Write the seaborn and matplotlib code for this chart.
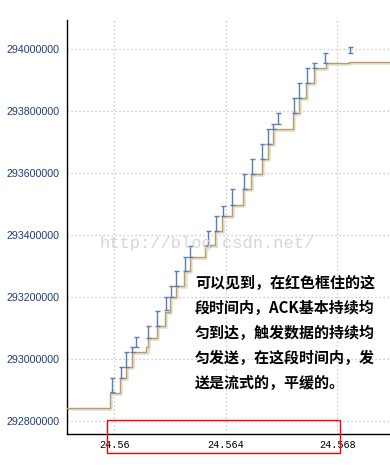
import matplotlib
matplotlib.use("Agg")
import matplotlib.pyplot as plt
import matplotlib.transforms as mtransforms
from matplotlib.patches import Rectangle
import seaborn as sns
import numpy as np
import pandas as pd

# ---- data ----
ack_time = [24.5580, 24.55985, 24.56019, 24.56041, 24.56062, 24.56115, 24.56121,
            24.56154, 24.56181, 24.56200, 24.56221, 24.56251, 24.56271, 24.56325,
            24.56361, 24.56385, 24.56421, 24.56460, 24.56489, 24.56528, 24.56550,
            24.56568, 24.56639, 24.56662, 24.56687, 24.56715, 24.56759, 24.56842,
            24.5700]
ack_seq = [292841900, 292889400, 292937700, 292973200, 293021600, 293039700, 293066800,
           293106500, 293152600, 293201000, 293235500, 293284800, 293330000, 293367700,
           293412900, 293461300, 293496800, 293547400, 293596800, 293644200, 293692600,
           293741900, 293792600, 293841000, 293889400, 293937700, 293953900, 293959000,
           293959000]

seg_time = [24.55990, 24.56023, 24.56042, 24.56062, 24.56077, 24.56120, 24.56154,
            24.56184, 24.56205, 24.56221, 24.56255, 24.56271, 24.56337, 24.56366,
            24.56391, 24.56423, 24.56465, 24.56494, 24.56530, 24.56552, 24.56568,
            24.56586, 24.56644, 24.56663, 24.56692, 24.56716, 24.56756, 24.56845]
seg_low = [292893500, 292937700, 292973200, 293022600, 293037700, 293066800, 293106500,
           293158100, 293201000, 293235500, 293284800, 293330000, 293365500, 293413900,
           293461300, 293496800, 293547400, 293596800, 293644200, 293692600, 293741900,
           293757100, 293792600, 293841000, 293889400, 293937700, 293953900, 293986100]
seg_high = [292937700, 292973200, 293021600, 293038700, 293070000, 293106500, 293154800,
            293201000, 293235500, 293284800, 293330000, 293364500, 293413900, 293461300,
            293494500, 293547400, 293596800, 293644200, 293692600, 293741900, 293757100,
            293792600, 293841000, 293889400, 293937700, 293953900, 293986100, 294007400]

x_ticks = [24.56, 24.564, 24.568]
x_tick_labels = ["24.56", "24.564", "24.568"]
y_ticks = [292800000, 293000000, 293200000, 293400000, 293600000, 293800000, 294000000]
y_tick_labels = [str(v) for v in y_ticks]

note_lines = ["可以见到，在红色框住的这",
              "段时间内，ACK基本持续均",
              "匀到达，触发数据的持续均",
              "匀发送，在这段时间内，发",
              "送是流式的，平缓的。"]
watermark = "http://blog.csdn.net/"

# ---- figure ----
sns.set_style("white")
plt.rcParams['font.family'] = ['Liberation Sans', 'DejaVu Sans']

W, H = 390, 465
fig = plt.figure(figsize=(W / 100, H / 100), dpi=100)
ax = fig.add_axes([66.7 / W, (H - 434) / H, (W - 66.7) / W, (434 - 20) / H])

ack_df = pd.DataFrame({"time": ack_time, "seq": ack_seq})

# shadow of ack line
shadow_tr = mtransforms.offset_copy(ax.transData, fig=fig, x=1.2, y=-1.0, units='dots')
ax.step(ack_df["time"], ack_df["seq"], where="post", color="#e8e0cc",
        linewidth=1.9, transform=shadow_tr, zorder=2)
sns.lineplot(data=ack_df, x="time", y="seq", drawstyle="steps-post", estimator=None,
             sort=False, color="#b39d73", linewidth=1.0, ax=ax, zorder=3)

# data segments
st = np.array(seg_time)
lo = np.array(seg_low)
hi = np.array(seg_high)
ax.errorbar(st, lo, yerr=[np.zeros_like(lo), hi - lo], fmt='none',
            ecolor="#5a7db0", elinewidth=1.0, capsize=1.8, capthick=1.0, zorder=4)

# axes styling
ax.set_xlim(24.558294, 24.569882)
ax.set_ylim(292758065, 294093548)
ax.set_xticks(x_ticks)
ax.set_xticklabels(x_tick_labels, fontfamily="Liberation Mono", fontsize=7.3, color="black")
ax.set_yticks(y_ticks)
ax.set_yticklabels(y_tick_labels, fontsize=7.7, color="#203d7a")
ax.xaxis.set_minor_locator(matplotlib.ticker.MultipleLocator(0.001))
ax.yaxis.set_minor_locator(matplotlib.ticker.MultipleLocator(50000))
ax.tick_params(axis='both', which='major', direction='in', length=5, width=1,
               color='black', pad=5)
ax.tick_params(axis='both', which='minor', direction='in', length=2.5, width=1,
               color='black')
ax.tick_params(axis='x', which='major', pad=4)
ax.grid(True, which='major', color='#bdbdbd', linewidth=0.9, linestyle=(0, (1, 2.2)))
ax.set_xlabel("")
ax.set_ylabel("")
for s in ['top', 'right']:
    ax.spines[s].set_visible(False)
for s in ['left', 'bottom']:
    ax.spines[s].set_color('black')
    ax.spines[s].set_linewidth(1.0)
ax.set_axisbelow(True)

# watermark
fig.text(100 / W, 1 - 243.5 / H, watermark, fontfamily="Liberation Mono", fontsize=12.3,
         color="#d6d6d6", ha="left", va="center", zorder=1)

# annotation
for i, line in enumerate(note_lines):
    fig.text(195 / W, 1 - (282.7 + 25 * i) / H, line,
             fontfamily=["Noto Sans CJK SC", "DejaVu Sans"], fontweight="bold",
             fontsize=10.8, color="black", ha="left", va="center", zorder=6)

# red box
fig.add_artist(Rectangle((107.3 / W, 1 - 452.7 / H), (340.3 - 107.3) / W, (452.7 - 420.3) / H,
                         transform=fig.transFigure, fill=False, edgecolor="#ff0000",
                         linewidth=1.0, zorder=7))

fig.savefig("out.png", dpi=100)
